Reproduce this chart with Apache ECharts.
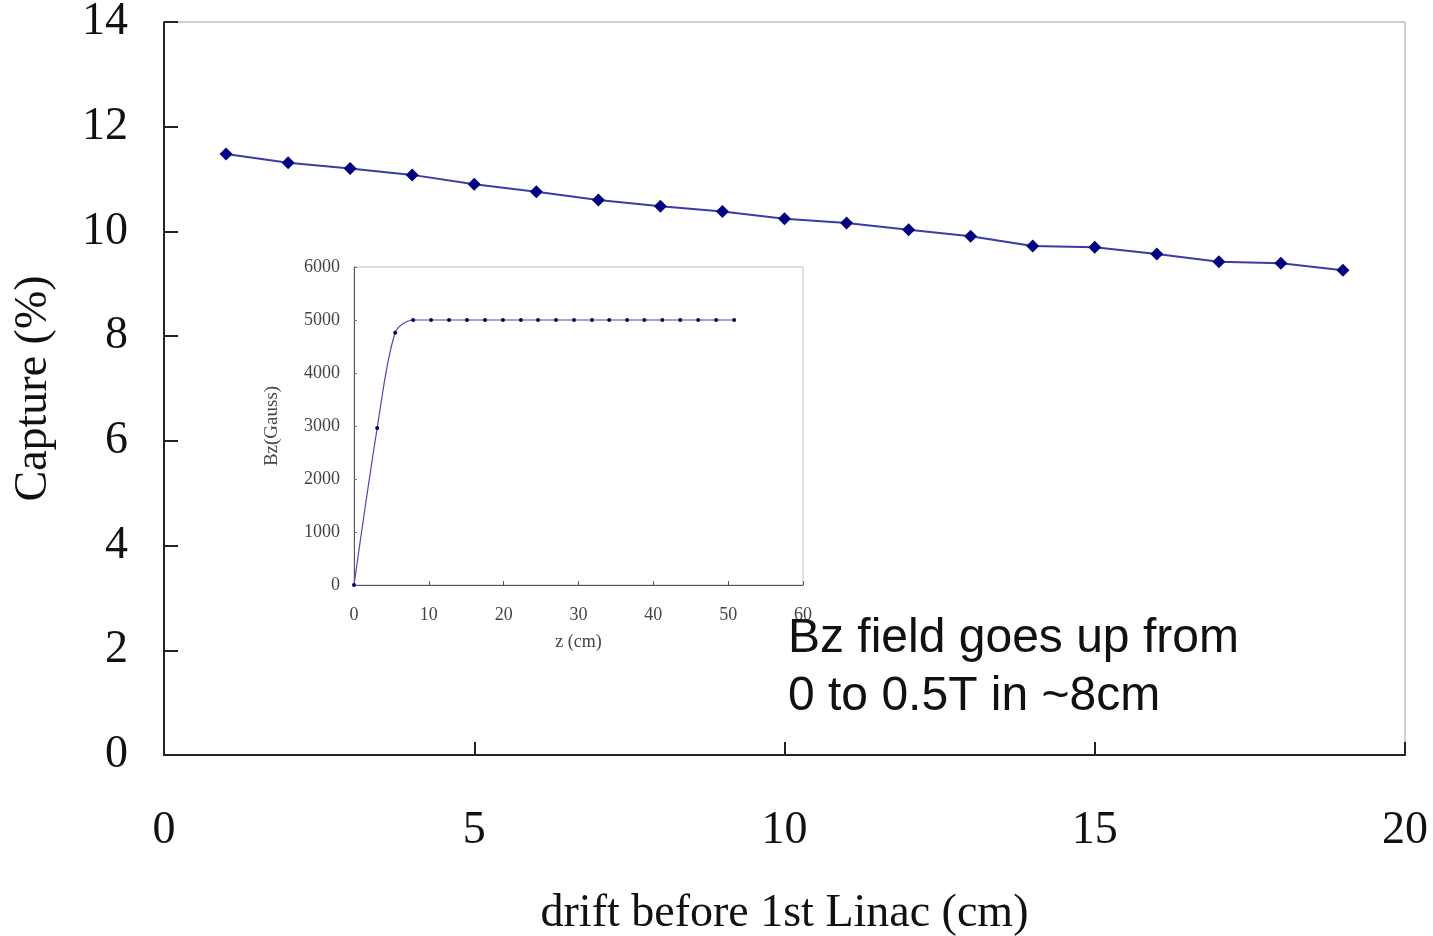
<!DOCTYPE html>
<html>
<head>
<meta charset="utf-8">
<script src="https://cdn.jsdelivr.net/npm/echarts@6/dist/echarts.min.js"></script>
<style>html,body{margin:0;padding:0;background:#fff}#c{width:1433px;height:936px}</style>
</head>
<body>
<div id="c"></div>
<script>
// Main chart data
const driftCm = [1,2,3,4,5,6,7,8,9,10,11,12,13,14,15,16,17,18,19];
const capturePct = [11.48,11.31,11.2,11.08,10.9,10.76,10.6,10.48,10.38,10.24,10.16,10.03,9.91,9.72,9.7,9.57,9.42,9.39,9.26];
const mainXTicks = [0,5,10,15,20];
const mainYTicks = [0,2,4,6,8,10,12,14];
// Inset data
const insetZ = [0,3.1,5.5,7.9,10.3,12.7,15.1,17.5,19.9,22.3,24.6,27.0,29.4,31.8,34.1,36.5,38.8,41.2,43.6,46.0,48.4,50.8];
const insetBz = [0,2960,4760,5000,5000,5000,5000,5000,5000,5000,5000,5000,5000,5000,5000,5000,5000,5000,5000,5000,5000,5000];
const noteLines = ['Bz field goes up from','0 to 0.5T in ~8cm'];

const serif = '"Liberation Serif","Times New Roman",serif';
const sans = '"Liberation Sans",Arial,sans-serif';

const chart = echarts.init(document.getElementById('c'), null, {renderer:'canvas'});
chart.setOption({
  animation:false,
  backgroundColor:'#fff',
  grid:[
    {left:164,right:28,top:22,bottom:181,containLabel:false,outerBoundsMode:'none',show:true,borderColor:'#a0a0a0',borderWidth:1,backgroundColor:'transparent'},
    {left:354,right:630,top:267,bottom:351,containLabel:false,outerBoundsMode:'none',show:true,borderColor:'#c0c0c0',borderWidth:1,backgroundColor:'#fff'}
  ],
  xAxis:[
    {gridIndex:0,type:'value',min:0,max:20,interval:5,
     name:'drift before 1st Linac (cm)',nameLocation:'middle',nameGap:136,
     nameTextStyle:{fontFamily:serif,fontSize:46,color:'#111'},
     axisLine:{lineStyle:{color:'#222',width:2}},
     axisTick:{inside:true,length:13,lineStyle:{color:'#222',width:2}},
     axisLabel:{fontFamily:serif,fontSize:46,color:'#111',margin:53},
     splitLine:{show:false}},
    {gridIndex:1,type:'value',min:0,max:60,interval:10,
     name:'z (cm)',nameLocation:'middle',nameGap:48,
     nameTextStyle:{fontFamily:serif,fontSize:18,color:'#444'},
     axisLine:{lineStyle:{color:'#555',width:1}},
     axisTick:{inside:true,length:4,lineStyle:{color:'#555'}},
     axisLabel:{fontFamily:serif,fontSize:18,color:'#444',margin:21},
     splitLine:{show:false}}
  ],
  yAxis:[
    {gridIndex:0,type:'value',min:0,max:14,interval:2,
     name:'Capture (%)',nameLocation:'middle',nameGap:107,nameRotate:90,
     nameTextStyle:{fontFamily:serif,fontSize:46,color:'#111'},
     axisLine:{show:true,lineStyle:{color:'#222',width:2}},
     axisTick:{show:true,inside:true,length:14,lineStyle:{color:'#222',width:2}},
     axisLabel:{fontFamily:serif,fontSize:46,color:'#111',margin:36},
     splitLine:{show:false}},
    {gridIndex:1,type:'value',min:0,max:6000,interval:1000,
     name:'Bz(Gauss)',nameLocation:'middle',nameGap:72,nameRotate:90,
     nameTextStyle:{fontFamily:serif,fontSize:19,color:'#444'},
     axisLine:{show:true,lineStyle:{color:'#555',width:1}},
     axisTick:{show:true,inside:true,length:3,lineStyle:{color:'#777'}},
     axisLabel:{fontFamily:serif,fontSize:18,color:'#444',margin:14,formatter:v=>String(v)},
     splitLine:{show:false}}
  ],
  series:[
    {type:'line',xAxisIndex:0,yAxisIndex:0,
     data:driftCm.map((x,i)=>[x,capturePct[i]]),
     symbol:'diamond',symbolSize:13,
     lineStyle:{color:'#3a3aa8',width:2},
     itemStyle:{color:'#000080'}},
    {type:'line',xAxisIndex:1,yAxisIndex:1,
     data:insetZ.map((x,i)=>[x,insetBz[i]]),
     smooth:0.3,
     symbol:'circle',symbolSize:4,
     lineStyle:{color:'#4a4ab8',width:1.2},
     itemStyle:{color:'#000066'}}
  ],
  graphic:noteLines.map((t,i)=>({
    type:'text',left:788,top:615+i*58,z:100,
    style:{text:t,fontFamily:sans,fontSize:48,fill:'#111'}
  }))
});
</script>
</body>
</html>
